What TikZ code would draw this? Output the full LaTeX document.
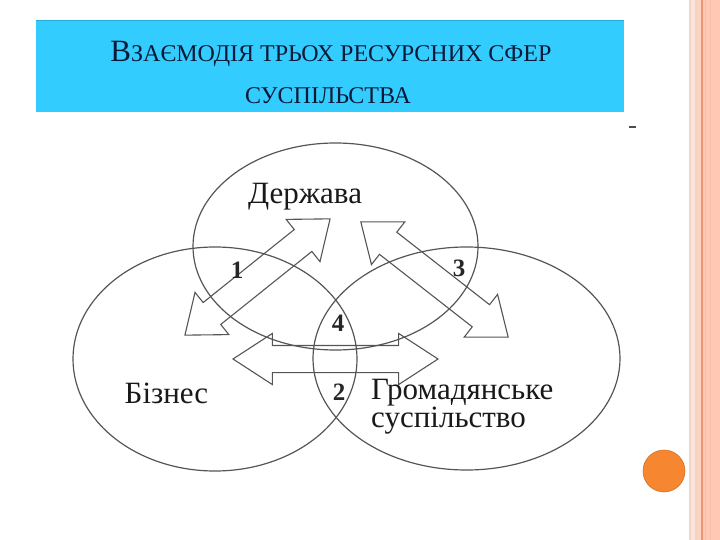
\documentclass[tikz,border=0pt]{standalone}
\usepackage{fontspec}
\setmainfont{Liberation Serif}
\usetikzlibrary{shapes.arrows}
\definecolor{titlebg}{RGB}{51,204,255}
\definecolor{titleline}{RGB}{40,170,220}
\definecolor{titletext}{RGB}{10,25,55}
\definecolor{linegray}{RGB}{85,85,85}
\definecolor{salmon}{RGB}{253,200,180}
\definecolor{peach}{RGB}{245,212,195}
\definecolor{stripe}{RGB}{236,150,115}
\definecolor{dotorange}{RGB}{246,135,48}
\tikzset{
  sphere/.style={draw=linegray, line width=1.2bp},
  dblarr/.style={double arrow, draw=linegray, line width=1.1bp, inner xsep=0pt,
     inner ysep=13.5bp, double arrow head extend=13bp, outer sep=0pt},
  lbl/.style={font=\fontsize{31bp}{28bp}\selectfont, text=black!90, inner sep=0pt},
  num/.style={font=\fontsize{25bp}{27bp}\selectfont\bfseries, text=black!85, inner sep=0pt},
  ttl/.style={text=titletext, inner sep=0pt, anchor=base}
}
\begin{document}
\begin{tikzpicture}[x=1bp,y=-1bp]
\useasboundingbox (0,0) rectangle (720,540);
% right border stripes
\fill[peach] (688.5,0) rectangle (690.5,540);
\fill[peach!60] (690.5,0) rectangle (695,540);
\fill[peach] (695,0) rectangle (698,540);
\fill[salmon!80] (698,0) rectangle (701,540);
\fill[stripe] (701,0) rectangle (702.5,540);
\fill[salmon] (702.5,0) rectangle (720,540);
\fill[salmon!80!stripe] (705,0) rectangle (706,540);
\fill[salmon!80!stripe] (710,0) rectangle (711,540);
% orange dot
\node[circle, fill=dotorange, draw=dotorange!85!black, line width=0.6bp, minimum size=42bp, inner sep=0pt] (dot) at (664,471) {};
% title box
\node[fill=titlebg, minimum width=588bp, minimum height=91bp, inner sep=0pt, anchor=north west] (titlebox) at (36,21) {};
\draw[titleline, line width=1bp] (titlebox.north west) -- (titlebox.north east);
\node[ttl] (title1) at (331,62) {{\fontsize{31bp}{34bp}\selectfont В}{\fontsize{24bp}{27bp}\selectfont ЗАЄМОДІЯ ТРЬОХ РЕСУРСНИХ СФЕР}};
\node[ttl] (title2) at (328,104) {\fontsize{24bp}{27bp}\selectfont СУСПІЛЬСТВА};
% small mark
\draw[black!70, line width=1.5bp] (629,127) coordinate (m1) -- (636,127) coordinate (m2);
% spheres
\draw[sphere] (335.5,246.5) ellipse [x radius=142.5bp, y radius=103.5bp];
\draw[sphere] (215,359) ellipse [x radius=142bp, y radius=112bp];
\draw[sphere] (466.5,358.5) ellipse [x radius=153.5bp, y radius=111.5bp];
% arrows
\node[dblarr, minimum height=186bp, double arrow tip angle=76, rotate=38.7] (a1) at (257.5,277) {};
\node[dblarr, minimum height=187bp, double arrow tip angle=76, rotate=-38] (a3) at (434.5,279.5) {};
\node[dblarr, minimum height=205bp, double arrow tip angle=66, inner ysep=13bp, double arrow head extend=12bp] (a2) at (335.5,359) {};
% labels
\node[lbl] (derzhava) at (305,197) {Держава};
\node[lbl] (biznes) at (166.5,393) {Бізнес};
\node[lbl, align=left, anchor=west] (hromada) at (371,407) {Громадянське\\суспільство};
\node[num] (n1) at (237,270) {1};
\node[num] (n3) at (459,268) {3};
\node[num] (n4) at (338,323) {4};
\node[num] (n2) at (339,392) {2};
\end{tikzpicture}
\end{document}
